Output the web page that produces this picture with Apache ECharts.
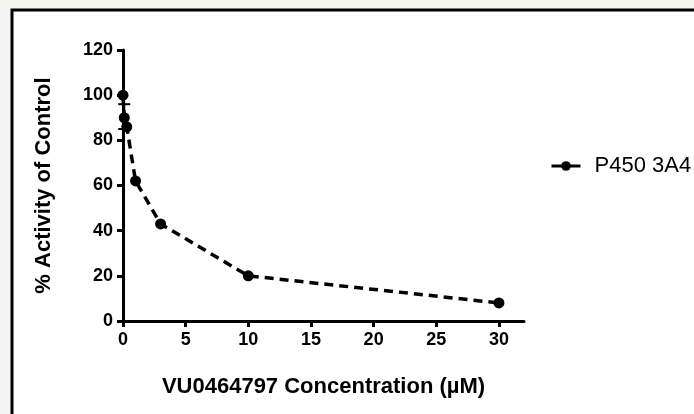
<!DOCTYPE html>
<html>
<head>
<meta charset="utf-8">
<script src="https://cdn.jsdelivr.net/npm/echarts@6/dist/echarts.min.js"></script>
<style>
  html, body { margin: 0; padding: 0; background: #f4f4f2; }
  #main { width: 694px; height: 414px; }
</style>
</head>
<body>
<div id="main"></div>
<script>
// concentration (uM) vs % activity
var conc = [0, 0.1, 0.3, 1, 3, 10, 30];
var activity = [100, 90, 86, 62, 43, 20, 8];
// error bars (only visible one)
var errX = [0.1];
var errLow = [85];
var errHigh = [96];
var seriesName = 'P450 3A4';

var chart = echarts.init(document.getElementById('main'));

var lineData = conc.map(function (c, i) { return [c, activity[i]]; });
var errData = errX.map(function (c, i) { return [c, errLow[i], errHigh[i]]; });

chart.setOption({
  animation: false,
  backgroundColor: 'transparent',
  textStyle: { fontFamily: '"Liberation Sans", Arial, sans-serif' },
  graphic: [{
    type: 'rect',
    z: -10,
    shape: { x: 12, y: 10, width: 720, height: 440 },
    style: { fill: '#ffffff', stroke: '#000', lineWidth: 3 }
  }],
  grid: { left: 123, top: 50, right: 170, bottom: 93 },
  legend: {
    data: [seriesName],
    left: 545,
    top: 150,
    itemWidth: 29,
    itemHeight: 12,
    lineStyle: { type: 'solid', width: 3 },
    textStyle: { fontSize: 22, color: '#000', padding: [0, 0, 0, 9] }
  },
  xAxis: {
    type: 'value',
    min: 0,
    max: 32,
    interval: 5,
    name: 'VU0464797 Concentration (\u00b5M)',
    nameLocation: 'middle',
    nameGap: 55,
    nameTextStyle: { fontSize: 22, fontWeight: 'bold', color: '#000' },
    axisLine: { show: true, onZero: false, lineStyle: { color: '#000', width: 3 } },
    axisTick: { show: true, length: 6, lineStyle: { color: '#000', width: 3 } },
    axisLabel: { fontSize: 18, fontWeight: 'bold', color: '#000', margin: 10, showMaxLabel: false },
    splitLine: { show: false }
  },
  yAxis: {
    type: 'value',
    min: 0,
    max: 120,
    interval: 20,
    name: '% Activity of Control',
    nameLocation: 'middle',
    nameGap: 68,
    nameTextStyle: { fontSize: 22, fontWeight: 'bold', color: '#000' },
    axisLine: { show: true, lineStyle: { color: '#000', width: 3 } },
    axisTick: { show: true, length: 6, lineStyle: { color: '#000', width: 3 } },
    axisLabel: { fontSize: 18, fontWeight: 'bold', color: '#000', margin: 10 },
    splitLine: { show: false }
  },
  series: [{
    name: seriesName,
    type: 'line',
    data: lineData,
    symbol: 'circle',
    symbolSize: 11,
    itemStyle: { color: '#000' },
    lineStyle: { color: '#000', width: 3.5, type: [9, 6] },
    z: 3
  }, {
    type: 'custom',
    data: errData,
    z: 4,
    renderItem: function (params, api) {
      var x = api.value(0);
      var lo = api.coord([x, api.value(1)]);
      var hi = api.coord([x, api.value(2)]);
      var w = 6;
      var st = { stroke: '#000', lineWidth: 2 };
      return {
        type: 'group',
        children: [
          { type: 'line', shape: { x1: lo[0], y1: lo[1], x2: hi[0], y2: hi[1] }, style: st },
          { type: 'line', shape: { x1: lo[0] - w, y1: lo[1], x2: lo[0] + w, y2: lo[1] }, style: st },
          { type: 'line', shape: { x1: hi[0] - w, y1: hi[1], x2: hi[0] + w, y2: hi[1] }, style: st }
        ]
      };
    }
  }]
});
</script>
</body>
</html>
